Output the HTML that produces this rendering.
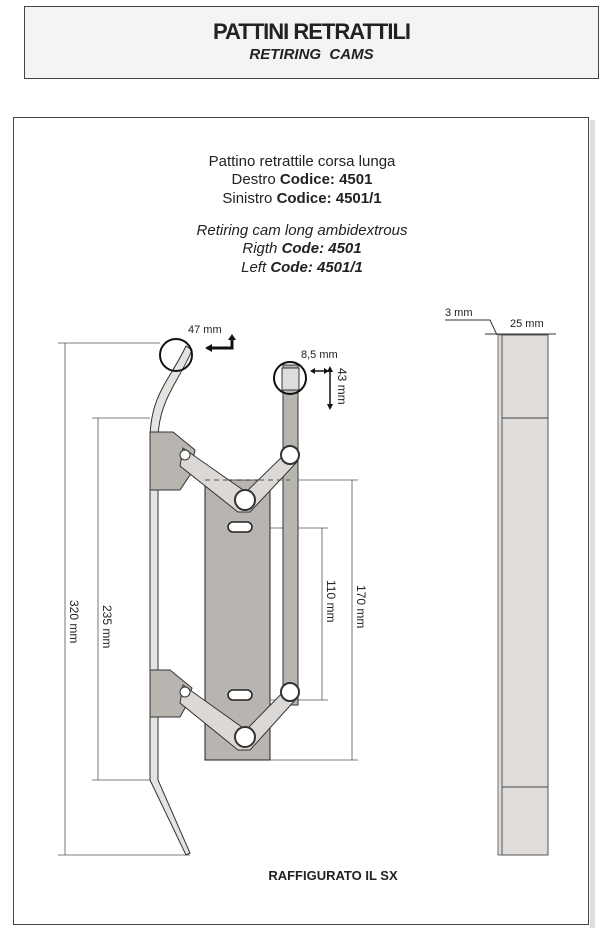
<!DOCTYPE html>
<html><head><meta charset="utf-8"><style>
body{margin:0;width:603px;height:934px;background:#fff;font-family:"Liberation Sans",sans-serif;position:relative;overflow:hidden}
</style></head><body>
<div style="position:absolute;left:24px;top:6px;width:575px;height:73px;background:#f4f4f4;border:1px solid #444;box-sizing:border-box;text-align:center">
<div style="font-weight:bold;font-size:22px;letter-spacing:-1px;margin-top:12px;color:#222">PATTINI RETRATTILI</div>
<div style="font-weight:bold;font-style:italic;font-size:15px;color:#222;margin-top:1px">RETIRING&nbsp; CAMS</div>
</div>
<svg width="603" height="934" style="position:absolute;left:0;top:0" font-family="Liberation Sans, sans-serif">
<rect x="590" y="120" width="5" height="808" fill="#ddd"/>
<rect x="13.5" y="117.5" width="575" height="807" fill="#fff" stroke="#444"/>
<g font-size="15" text-anchor="middle" fill="#222">
<text x="302" y="166">Pattino retrattile corsa lunga</text>
<text x="302" y="184">Destro <tspan font-weight="bold">Codice: 4501</tspan></text>
<text x="302" y="203">Sinistro <tspan font-weight="bold">Codice: 4501/1</tspan></text>
<text x="302" y="235" font-style="italic">Retiring cam long ambidextrous</text>
<text x="302" y="253" font-style="italic">Rigth <tspan font-weight="bold">Code: 4501</tspan></text>
<text x="302" y="272" font-style="italic">Left <tspan font-weight="bold">Code: 4501/1</tspan></text>
<text x="333" y="880" font-weight="bold" font-size="13">RAFFIGURATO IL SX</text>
</g>
<rect x="498" y="335" width="4" height="520" fill="#ddd" stroke="#555" stroke-width="0.8"/>
<rect x="502" y="335" width="46" height="520" fill="#e0dcda" stroke="#555"/>
<line x1="502" y1="418" x2="548" y2="418" stroke="#444"/>
<line x1="502" y1="787" x2="548" y2="787" stroke="#444"/>
<polyline points="445,320 490,320 497,335" fill="none" stroke="#333"/>
<line x1="485" y1="334" x2="556" y2="334" stroke="#333"/>
<g font-size="11" fill="#222"><text x="445" y="316">3 mm</text><text x="510" y="327">25 mm</text>
<text x="188" y="333">47 mm</text><text x="301" y="358">8,5 mm</text></g>
<g stroke="#555" stroke-width="0.8" fill="none">
<line x1="65" y1="343" x2="65" y2="855"/><line x1="58" y1="343" x2="160" y2="343"/><line x1="58" y1="855" x2="190" y2="855"/>
<line x1="98" y1="418" x2="98" y2="780"/><line x1="92" y1="418" x2="150" y2="418"/><line x1="92" y1="780" x2="150" y2="780"/>
<line x1="352" y1="480" x2="352" y2="760"/><line x1="290" y1="480" x2="358" y2="480"/><line x1="270" y1="760" x2="358" y2="760"/>
<line x1="322" y1="528" x2="322" y2="700"/><line x1="250" y1="528" x2="328" y2="528"/><line x1="260" y1="700" x2="328" y2="700"/>
</g>
<g font-size="12" fill="#222">
<text transform="translate(70,600) rotate(90)">320 mm</text>
<text transform="translate(103,605) rotate(90)">235 mm</text>
<text transform="translate(357,585) rotate(90)">170 mm</text>
<text transform="translate(327,580) rotate(90)">110 mm</text>
<text transform="translate(338,368) rotate(90)">43 mm</text>
</g>
<path d="M207,348 L232,348 L232,338" fill="none" stroke="#111" stroke-width="3"/>
<path d="M205,348 l7,-4 v8z M232,334 l-4,6 h8z" fill="#111"/>
<path d="M312,371 H327 M330,370 V405" stroke="#111" stroke-width="1.5"/>
<path d="M310,371 l5,-3 v6z M329,371 l-5,-3 v6z M330,366 l-3,6 h6z M330,410 l-3,-6 h6z" fill="#111"/>
<path d="M186,346 C170,380 150,395 150,440 L150,780 L186,855 L190,853 L158,780 L158,440 C158,400 180,380 192,350 Z" fill="#e6e2df" stroke="#333"/>
<circle cx="176" cy="355" r="16" fill="none" stroke="#111" stroke-width="2"/>
<rect x="205" y="480" width="65" height="280" fill="#b8b4b0" stroke="#222"/>
<rect x="283" y="365" width="15" height="340" fill="#b8b4b0" stroke="#333"/>
<rect x="282" y="368" width="17" height="22" fill="#ddd" stroke="#333"/>
<circle cx="290" cy="378" r="16" fill="none" stroke="#111" stroke-width="2"/>
<path d="M150,432 L173,432 L195,450 L190,475 L180,490 L150,490 Z" fill="#b8b4b0" stroke="#333"/>
<path d="M183,448 L246,492 L289,450 L297,462 L250,512 L238,512 L180,466 Z" fill="#dcd8d5" stroke="#333"/>
<circle cx="185" cy="455" r="5" fill="#fff" stroke="#333"/>
<circle cx="290" cy="455" r="9" fill="#fff" stroke="#333" stroke-width="2"/>
<circle cx="245" cy="500" r="10" fill="#fff" stroke="#333" stroke-width="2"/>
<rect x="228" y="522" width="24" height="10" rx="5" fill="#fff" stroke="#222" stroke-width="1.5"/>
<line x1="205" y1="480" x2="290" y2="480" stroke="#555" stroke-dasharray="5,4"/>
<path d="M150,670 L170,670 L192,688 L185,708 L180,717 L150,717 Z" fill="#b8b4b0" stroke="#333"/>
<path d="M183,685 L246,730 L289,686 L297,698 L250,750 L238,750 L180,703 Z" fill="#dcd8d5" stroke="#333"/>
<circle cx="185" cy="692" r="5" fill="#fff" stroke="#333"/>
<circle cx="290" cy="692" r="9" fill="#fff" stroke="#333" stroke-width="2"/>
<circle cx="245" cy="737" r="10" fill="#fff" stroke="#333" stroke-width="2"/>
<rect x="228" y="690" width="24" height="10" rx="5" fill="#fff" stroke="#222" stroke-width="1.5"/>
</svg>
</body></html>
